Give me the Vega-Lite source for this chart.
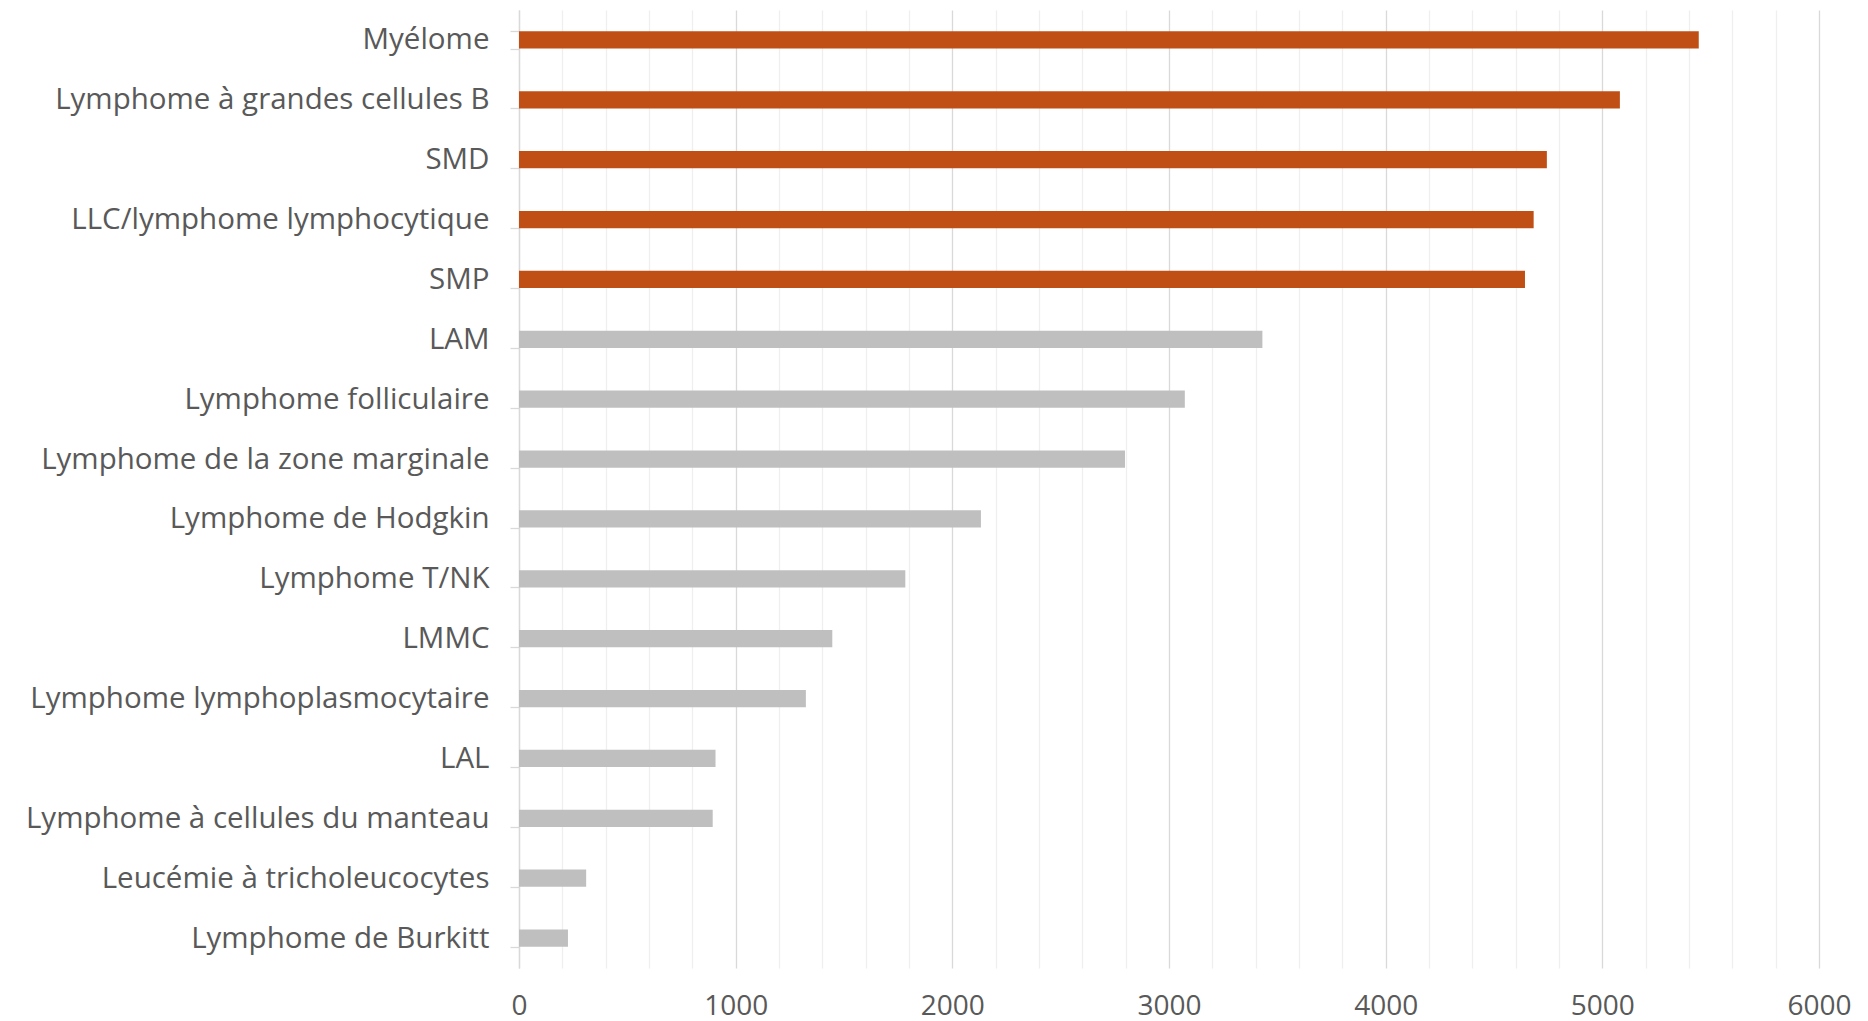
{
  "$schema": "https://vega.github.io/schema/vega-lite/v6.json",
  "autosize": "none",
  "width": 1300,
  "height": 958,
  "padding": {"left": 519, "top": 10, "right": 49, "bottom": 53},
  "background": "white",
  "config": {
    "view": {"stroke": null},
    "axis": {"labelFont": "Open Sans", "labelColor": "#595959", "labelFontSize": 25, "labelLimit": 0}
  },
  "data": {
    "values": [
      {"hemopathie": "Myélome", "cas": 5445, "groupe": "top"},
      {"hemopathie": "Lymphome à grandes cellules B ", "cas": 5081, "groupe": "top"},
      {"hemopathie": "SMD", "cas": 4744, "groupe": "top"},
      {"hemopathie": "LLC/lymphome lymphocytique", "cas": 4683, "groupe": "top"},
      {"hemopathie": "SMP", "cas": 4643, "groupe": "top"},
      {"hemopathie": "LAM", "cas": 3431, "groupe": "autre"},
      {"hemopathie": "Lymphome folliculaire ", "cas": 3073, "groupe": "autre"},
      {"hemopathie": "Lymphome de la zone marginale ", "cas": 2797, "groupe": "autre"},
      {"hemopathie": "Lymphome de Hodgkin ", "cas": 2132, "groupe": "autre"},
      {"hemopathie": "Lymphome T/NK", "cas": 1783, "groupe": "autre"},
      {"hemopathie": "LMMC", "cas": 1446, "groupe": "autre"},
      {"hemopathie": "Lymphome lymphoplasmocytaire ", "cas": 1324, "groupe": "autre"},
      {"hemopathie": "LAL", "cas": 907, "groupe": "autre"},
      {"hemopathie": "Lymphome à cellules du manteau ", "cas": 894, "groupe": "autre"},
      {"hemopathie": "Leucémie à tricholeucocytes", "cas": 310, "groupe": "autre"},
      {"hemopathie": "Lymphome de Burkitt", "cas": 226, "groupe": "autre"}
    ]
  },
  "encoding": {
    "y": {"field": "hemopathie", "type": "nominal", "sort": "-x",
          "scale": {"paddingInner": 0.71, "paddingOuter": 0.355},
          "axis": {"title": null, "tickBand": "extent", "tickSize": 9, "tickColor": "#d9d9d9", "tickWidth": 1.3,
                   "domainColor": "#d9d9d9", "domainWidth": 1.3, "labelPadding": 21, "grid": false, "labelFontSize": 29.5}}
  },
  "layer": [
    {
      "mark": {"type": "bar", "opacity": 0},
      "encoding": {
        "x": {"field": "cas", "type": "quantitative",
              "scale": {"domain": [0, 6000], "nice": false},
              "axis": {"orient": "top", "title": null, "values": [200,400,600,800,1200,1400,1600,1800,2200,2400,2600,2800,3200,3400,3600,3800,4200,4400,4600,4800,5200,5400,5600,5800],
                       "labels": false, "ticks": false, "domain": false, "grid": true, "gridColor": "#efefef", "gridWidth": 1.3}}
      }
    },
    {
      "mark": {"type": "bar"},
      "encoding": {
        "x": {"field": "cas", "type": "quantitative",
              "scale": {"domain": [0, 6000], "nice": false},
              "axis": {"title": null, "values": [0,1000,2000,3000,4000,5000,6000], "format": "d", "ticks": false, "domain": false,
                       "grid": true, "gridColor": "#d9d9d9", "gridWidth": 1.3, "labelPadding": 24, "labelFlush": false, "labelFontSize": 28}},
        "color": {"field": "groupe", "type": "nominal", "legend": null,
                  "scale": {"domain": ["top", "autre"], "range": ["#C04F15", "#BFBFBF"]}}
      }
    }
  ],
  "resolve": {"axis": {"x": "independent"}}
}
